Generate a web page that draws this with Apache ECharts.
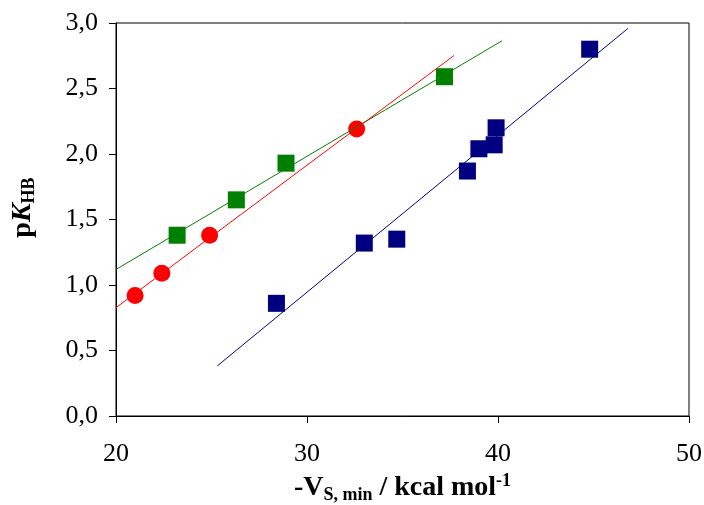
<!DOCTYPE html>
<html><head><meta charset="utf-8">
<script src="https://cdn.jsdelivr.net/npm/echarts@6/dist/echarts.min.js"></script>
<style>html,body{margin:0;padding:0;background:#fff}#c{width:704px;height:505px}</style>
</head><body><div id="c"></div>
<script>
// Red circles
const redX = [21.0, 22.4, 24.9, 32.6];
const redY = [0.92, 1.09, 1.38, 2.19];
// Green squares
const greenX = [23.2, 26.3, 28.9, 37.2];
const greenY = [1.38, 1.65, 1.93, 2.59];
// Navy squares
const blueX = [28.4, 33.0, 34.7, 38.4, 39.0, 39.8, 39.9, 44.8];
const blueY = [0.86, 1.32, 1.35, 1.87, 2.04, 2.07, 2.20, 2.80];
// x-extent of the trend lines
const redFitX = [20, 37.7];
const greenFitX = [20, 40.2];
const blueFitX = [25.3, 46.8];
const xTicks = [20, 30, 40, 50];
const yTicks = [0, 0.5, 1, 1.5, 2, 2.5, 3];

function fit(xs, ys, range) {
  const n = xs.length;
  const mx = xs.reduce((a, b) => a + b, 0) / n;
  const my = ys.reduce((a, b) => a + b, 0) / n;
  let sxy = 0, sxx = 0;
  for (let i = 0; i < n; i++) { sxy += (xs[i] - mx) * (ys[i] - my); sxx += (xs[i] - mx) ** 2; }
  const b = sxy / sxx, a = my - b * mx;
  return range.map(x => [x, a + b * x]);
}
const zip = (xs, ys) => xs.map((x, i) => [x, ys[i]]);

const font = 'Liberation Serif';
const chart = echarts.init(document.getElementById('c'), null, {renderer: 'canvas'});
const lineS = (d, c) => ({type: 'line', data: d, symbol: 'none', lineStyle: {color: c, width: 1}, z: 5, silent: true});
const ptS = (d, c, sym) => ({type: 'scatter', data: d, symbol: sym, symbolSize: 17,
  itemStyle: {color: c, opacity: 1}, z: 3});

chart.setOption({
  animation: false,
  grid: {left: 116, right: 15, top: 23, bottom: 89, show: true, borderColor: '#000', borderWidth: 1,
    outerBoundsMode: 'none', containLabel: false},
  xAxis: {
    type: 'value', min: xTicks[0], max: xTicks[xTicks.length - 1], interval: 10,
    splitLine: {show: false},
    axisLine: {lineStyle: {color: '#000', width: 1}},
    axisTick: {inside: false, length: 7, lineStyle: {color: '#000'}},
    axisLabel: {fontFamily: font, fontSize: 26, color: '#000', margin: 25},
    name: '{a|-V}{sub|S, min}{a| / kcal mol}{sup|-1}',
    nameLocation: 'middle', nameGap: 55,
    nameTextStyle: {
      rich: {
        a: {fontFamily: font, fontSize: 28, fontWeight: 'bold', color: '#000', lineHeight: 32, verticalAlign: 'middle'},
        sub: {fontFamily: font, fontSize: 18, fontWeight: 'bold', color: '#000', lineHeight: 14, verticalAlign: 'bottom'},
        sup: {fontFamily: font, fontSize: 18, fontWeight: 'bold', color: '#000', lineHeight: 14, verticalAlign: 'top'}
      }
    }
  },
  yAxis: {
    type: 'value', min: yTicks[0], max: yTicks[yTicks.length - 1], interval: 0.5,
    splitLine: {show: false},
    axisLine: {show: true, lineStyle: {color: '#000', width: 1}},
    axisTick: {show: true, inside: false, length: 7, lineStyle: {color: '#000'}},
    axisLabel: {fontFamily: font, fontSize: 26, color: '#000', margin: 18,
      formatter: v => v.toFixed(1).replace('.', ',')},
    name: '{a|p}{k|K}{sub|HB}',
    nameLocation: 'middle', nameGap: 78, nameRotate: 90,
    nameTextStyle: {
      padding: [0, 0, 0, 24],
      rich: {
        a: {fontFamily: font, fontSize: 28, fontWeight: 'bold', color: '#000', lineHeight: 30, verticalAlign: 'middle'},
        k: {fontFamily: font, fontSize: 28, fontWeight: 'bold', fontStyle: 'italic', color: '#000', lineHeight: 30, verticalAlign: 'middle'},
        sub: {fontFamily: font, fontSize: 18, fontWeight: 'bold', color: '#000', lineHeight: 14, verticalAlign: 'bottom'}
      }
    }
  },
  series: [
    ptS(zip(greenX, greenY), '#008000', 'rect'),
    ptS(zip(blueX, blueY), '#000080', 'rect'),
    ptS(zip(redX, redY), '#ff0000', 'circle'),
    lineS(fit(greenX, greenY, greenFitX), '#008000'),
    lineS(fit(redX, redY, redFitX), '#ff0000'),
    lineS(fit(blueX, blueY, blueFitX), '#000080')
  ]
});
</script></body></html>
